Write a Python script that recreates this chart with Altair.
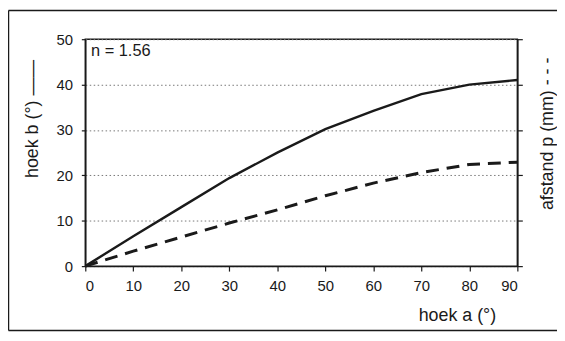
import altair as alt
import pandas as pd

# Data
hoek_a = [0, 10, 20, 30, 40, 50, 60, 70, 80, 90]
hoek_b = [0, 6.6, 13.0, 19.4, 25.0, 30.2, 34.2, 37.9, 40.0, 41.0]
afstand_p = [0, 3.3, 6.4, 9.5, 12.4, 15.5, 18.3, 20.6, 22.4, 22.9]

note_text = ["n = 1.56"]
note_a = [1.2]
note_b = [47.3]

x_ticks = [0, 10, 20, 30, 40, 50, 60, 70, 80, 90]
y_ticks = [0, 10, 20, 30, 40, 50]

df_b = pd.DataFrame({"a": hoek_a, "v": hoek_b})
df_p = pd.DataFrame({"a": hoek_a, "v": afstand_p})
df_note = pd.DataFrame({"a": note_a, "v": note_b, "t": note_text})

FONT = "Liberation Sans"
INK = "#1a1a1a"

xscale = alt.Scale(domain=[0, 90], nice=False, zero=False)
yscale = alt.Scale(domain=[0, 50], nice=False, zero=False)

x_enc = alt.X(
    "a:Q",
    scale=xscale,
    axis=alt.Axis(
        values=x_ticks,
        title="hoek a (°)",
        titleX=375,
        titleY=50,
        titleAlign="center",
        titleBaseline="middle",
        titleFontSize=18,
        titleFontWeight="normal",
        labelFontSize=15,
        labelPadding=8,
        tickSize=5,
        grid=False,
    ),
)

solid = alt.Chart(df_b).mark_line(color=INK, strokeWidth=2.4).encode(
    x=x_enc,
    y=alt.Y(
        "v:Q",
        scale=yscale,
        axis=alt.Axis(
            values=y_ticks,
            title="hoek b (°) ——",
            titleX=-53,
            titleY=80,
            titleAngle=270,
            titleAlign="center",
            titleBaseline="middle",
            titleFontSize=18,
            titleFontWeight="normal",
            labelFontSize=15,
            labelPadding=9,
            tickSize=4,
            grid=True,
            gridDash=[1.5, 2.5],
            gridColor="#777777",
            gridWidth=1,
        ),
    ),
)

dashed = alt.Chart(df_p).mark_line(
    color=INK, strokeWidth=3, strokeDash=[13, 8]
).encode(
    x=x_enc,
    y=alt.Y(
        "v:Q",
        scale=yscale,
        axis=alt.Axis(
            orient="right",
            values=y_ticks,
            labels=False,
            title="afstand p (mm) - - -",
            titleX=30,
            titleY=95,
            titleAngle=270,
            titleAlign="center",
            titleBaseline="middle",
            titleFontSize=18,
            titleFontWeight="normal",
            tickSize=5,
            grid=False,
        ),
    ),
)

note = alt.Chart(df_note).mark_text(
    align="left", baseline="middle", fontSize=16.5, font=FONT, color=INK
).encode(
    x=x_enc,
    y=alt.Y("v:Q", scale=yscale, axis=None),
    text="t:N",
)

rule_style = dict(color=INK, strokeWidth=1.5, clip=False)
frame_top = alt.Chart(df_note).mark_rule(**rule_style).encode(
    x=alt.value(-77.5), x2=alt.value(476), y=alt.value(-29)
)
frame_left = alt.Chart(df_note).mark_rule(**rule_style).encode(
    x=alt.value(-77.5), y=alt.value(-29), y2=alt.value(294)
)
frame_bottom = alt.Chart(df_note).mark_rule(**rule_style).encode(
    x=alt.value(-77.5), x2=alt.value(476), y=alt.value(294)
)

chart = (
    alt.layer(frame_top, frame_left, frame_bottom, solid, dashed, note)
    .resolve_scale(y="independent")
    .properties(
        width=436,
        height=229,
        autosize=alt.AutoSizeParams(type="none"),
        padding={"left": 78, "top": 30, "right": 40, "bottom": 66},
        background="white",
    )
    .configure_view(stroke=INK, strokeWidth=1.5)
    .configure_axis(
        labelFont=FONT,
        titleFont=FONT,
        labelColor=INK,
        titleColor=INK,
        domainColor=INK,
        domainWidth=1.5,
        tickColor=INK,
        tickWidth=1.2,
    )
)

chart.save("out.html", embed_options={"renderer": "svg", "actions": False})
